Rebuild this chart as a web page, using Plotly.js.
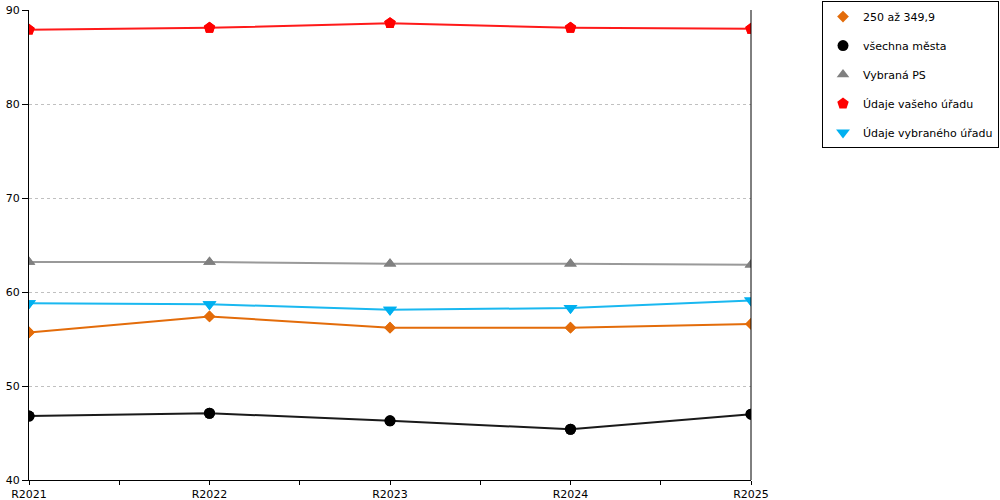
<!DOCTYPE html>
<html><head><meta charset="utf-8">
<script src="https://cdn.plot.ly/plotly-3.0.1.min.js"></script>
<style>body{margin:0;padding:0;background:#fff}#chart{width:1000px;height:500px}</style>
</head><body><div id="chart"></div>
<script>
const categories = ["R2021","R2022","R2023","R2024","R2025"];
const seriesNames = ["250 až 349,9","všechna města","Vybraná PS","Údaje vašeho úřadu","Údaje vybraného úřadu"];
const s250 = [55.7, 57.4, 56.2, 56.2, 56.6];
const sVsechna = [46.8, 47.1, 46.3, 45.4, 47.0];
const sVybranaPS = [63.2, 63.2, 63.0, 63.0, 62.9];
const sVasUrad = [87.9, 88.1, 88.6, 88.1, 88.0];
const sVybranyUrad = [58.8, 58.7, 58.1, 58.3, 59.1];
const yTicks = [40, 50, 60, 70, 80, 90];

const seriesValues = [s250, sVsechna, sVybranaPS, sVasUrad, sVybranyUrad];
const colors = ["#e36c0a", "#000000", "#808080", "#ff0000", "#00b0f0"];
const lineColors = ["#e36c0a", "#1a1a1a", "#999999", "#ff1a1a", "#1ab8f0"];
const symbols = ["diamond", "circle", "triangle-up", "pentagon", "triangle-down"];
const sizes = [9, 11, 11, 12, 12];

const xIdx = categories.map((c, i) => i);
const traces = [];
seriesValues.forEach((vals, k) => {
  traces.push({
    x: xIdx, y: vals, type: 'scatter', mode: 'lines+markers',
    name: seriesNames[k], showlegend: false,
    line: {color: lineColors[k], width: 2},
    marker: {symbol: symbols[k], size: sizes[k], color: colors[k]},
    hoverinfo: 'skip'
  });
});
seriesValues.forEach((vals, k) => {
  traces.push({
    x: xIdx, y: vals, type: 'scatter', mode: 'markers',
    name: seriesNames[k], legendgroup: 'g' + k, showlegend: true,
    marker: {symbol: symbols[k], size: sizes[k], color: colors[k]},
    hoverinfo: 'skip'
  });
});

const tickVals = [], tickText = [];
for (let i = 0; i < categories.length; i++) {
  tickVals.push(i); tickText.push(categories[i]);
  if (i < categories.length - 1) { tickVals.push(i + 0.5); tickText.push(''); }
}

const layout = {
  width: 1000, height: 500,
  margin: {l: 29, r: 249, t: 10, b: 20, pad: 0, autoexpand: false},
  paper_bgcolor: '#fff', plot_bgcolor: '#fff',
  font: {family: 'DejaVu Sans, Verdana, sans-serif', size: 11, color: '#000'},
  xaxis: {
    range: [0, categories.length - 1], tickmode: 'array', tickvals: tickVals, ticktext: tickText,
    ticks: 'outside', ticklen: 4, tickcolor: '#000', tickwidth: 1,
    showline: true, linecolor: '#000', linewidth: 1, mirror: false,
    showgrid: false, zeroline: false, fixedrange: true, automargin: false
  },
  yaxis: {
    range: [40, 90], tickmode: 'array', tickvals: yTicks,
    ticks: 'outside', ticklen: 6, tickcolor: '#000', tickwidth: 1,
    showline: true, linecolor: '#000', linewidth: 1,
    showgrid: true, gridcolor: '#c0c0c0', griddash: 'dot', gridwidth: 1,
    zeroline: false, fixedrange: true, automargin: false
  },
  shapes: [{type: 'line', xref: 'paper', yref: 'paper', x0: 1, x1: 1, y0: 0, y1: 1, line: {color: '#000', width: 1}}],
  legend: {
    x: 1.3435, xanchor: 'right', y: 1.019, yanchor: 'top',
    bordercolor: '#000', borderwidth: 1, bgcolor: '#fff',
    traceorder: 'grouped', tracegroupgap: 10,
    font: {family: 'DejaVu Sans, Verdana, sans-serif', size: 11, color: '#000'},
    itemwidth: 30
  },
  showlegend: true
};
Plotly.newPlot('chart', traces, layout, {displayModeBar: false, staticPlot: true});
</script></body></html>
